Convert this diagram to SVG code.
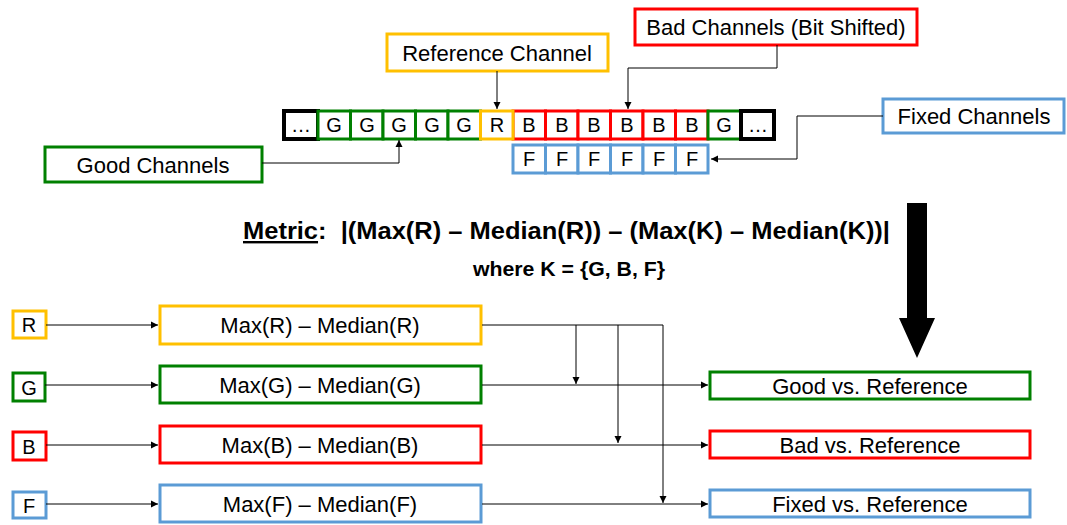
<svg xmlns="http://www.w3.org/2000/svg" width="1067" height="525" viewBox="0 0 1067 525">
<style>
text{font-family:"Liberation Sans",Arial,sans-serif;fill:#000;text-anchor:middle;}
.t18{font-size:20px;}
.t20{font-size:22px;}
.y{fill:#fff;stroke:#FFC000;stroke-width:3;}
.g{fill:#fff;stroke:#008000;stroke-width:3;}
.r{fill:#fff;stroke:#FF0000;stroke-width:3;}
.b{fill:#fff;stroke:#5B9BD5;stroke-width:3;}
.k{fill:#fff;stroke:#000;stroke-width:4;}
.ln{fill:none;stroke:#000;stroke-width:1;}
.mt{font-family:"Liberation Sans",Arial,sans-serif;font-weight:bold;white-space:pre;}
</style>
<defs>
<marker id="ah" markerWidth="8" markerHeight="8" refX="7" refY="4" orient="auto" markerUnits="userSpaceOnUse">
<path d="M0,0.5 L7,4 L0,7.5 Z" fill="#000"/>
</marker>
</defs>

<g id="channel-row">
<rect class="k" x="284" y="111" width="34" height="28"/><text class="t18" x="301" y="132">…</text>
<rect class="g" x="318" y="111" width="32.5" height="28"/><text class="t18" x="334" y="132">G</text>
<rect class="g" x="350.5" y="111" width="32.5" height="28"/><text class="t18" x="367" y="132">G</text>
<rect class="g" x="383" y="111" width="32.5" height="28"/><text class="t18" x="399" y="132">G</text>
<rect class="g" x="415.5" y="111" width="32.5" height="28"/><text class="t18" x="432" y="132">G</text>
<rect class="g" x="448" y="111" width="32.5" height="28"/><text class="t18" x="464" y="132">G</text>
<rect class="r" x="513" y="111" width="32.5" height="28"/><text class="t18" x="529" y="132">B</text>
<rect class="r" x="545.5" y="111" width="32.5" height="28"/><text class="t18" x="562" y="132">B</text>
<rect class="r" x="578" y="111" width="32.5" height="28"/><text class="t18" x="594" y="132">B</text>
<rect class="r" x="610.5" y="111" width="32.5" height="28"/><text class="t18" x="627" y="132">B</text>
<rect class="r" x="643" y="111" width="32.5" height="28"/><text class="t18" x="659" y="132">B</text>
<rect class="r" x="675.5" y="111" width="32.5" height="28"/><text class="t18" x="692" y="132">B</text>
<rect class="y" x="480.5" y="111" width="32.5" height="28"/><text class="t18" x="497" y="132">R</text>
<rect class="g" x="708" y="111" width="33" height="28"/><text class="t18" x="724" y="132">G</text>
<rect class="k" x="741" y="111" width="33" height="28"/><text class="t18" x="758" y="132">…</text>
</g>

<g id="fixed-row">
<rect class="b" x="513" y="145" width="32.5" height="28"/><text class="t18" x="529" y="166">F</text>
<rect class="b" x="545.5" y="145" width="32.5" height="28"/><text class="t18" x="562" y="166">F</text>
<rect class="b" x="578" y="145" width="32.5" height="28"/><text class="t18" x="594" y="166">F</text>
<rect class="b" x="610.5" y="145" width="32.5" height="28"/><text class="t18" x="627" y="166">F</text>
<rect class="b" x="643" y="145" width="32.5" height="28"/><text class="t18" x="659" y="166">F</text>
<rect class="b" x="675.5" y="145" width="32.5" height="28"/><text class="t18" x="692" y="166">F</text>
</g>

<g id="reference-channel"><rect class="y" x="387" y="34" width="221" height="37"/><text class="t20" x="497" y="61">Reference Channel</text></g>
<g id="bad-channels"><rect class="r" x="635" y="9" width="282" height="36"/><text class="t20" x="776" y="35">Bad Channels (Bit Shifted)</text></g>
<g id="good-channels"><rect class="g" x="45" y="147" width="217" height="35"/><text class="t20" x="153" y="173">Good Channels</text></g>
<g id="fixed-channels"><rect class="b" x="883" y="99" width="181" height="34"/><text class="t20" x="974" y="124">Fixed Channels</text></g>

<g id="metric">
<text class="mt" x="243" y="239" style="font-size:24px;text-anchor:start;" textLength="647" lengthAdjust="spacingAndGlyphs"><tspan text-decoration="underline">Metric</tspan>:  |(Max(R) – Median(R)) – (Max(K) – Median(K))|</text>
<text class="mt" x="569" y="276" style="font-size:20px;" textLength="192" lengthAdjust="spacingAndGlyphs">where K = {G, B, F}</text>
</g>

<g id="big-arrow"><path d="M907,203 H927 V318 H935 L917,358 L899,318 H907 Z" fill="#000"/></g>

<g id="in-R"><rect class="y" x="13" y="311" width="33" height="27"/><text class="t18" x="29" y="332">R</text></g>
<g id="in-G"><rect class="g" x="13" y="373" width="32" height="28"/><text class="t18" x="29" y="395">G</text></g>
<g id="in-B"><rect class="r" x="13" y="432" width="33" height="28"/><text class="t18" x="29" y="454">B</text></g>
<g id="in-F"><rect class="b" x="13" y="492" width="33" height="26"/><text class="t18" x="29" y="513">F</text></g>

<g id="max-R"><rect class="y" x="160" y="306" width="321" height="38"/><text class="t20" x="320" y="333">Max(R) – Median(R)</text></g>
<g id="max-G"><rect class="g" x="160" y="366" width="321" height="37"/><text class="t20" x="320" y="393">Max(G) – Median(G)</text></g>
<g id="max-B"><rect class="r" x="160" y="426" width="321" height="37"/><text class="t20" x="320" y="453">Max(B) – Median(B)</text></g>
<g id="max-F"><rect class="b" x="160" y="485" width="321" height="37"/><text class="t20" x="320" y="512">Max(F) – Median(F)</text></g>

<g id="good-vs"><rect class="g" x="710" y="372" width="320" height="27"/><text class="t20" x="870" y="394">Good vs. Reference</text></g>
<g id="bad-vs"><rect class="r" x="710" y="431" width="320" height="27"/><text class="t20" x="870" y="453">Bad vs. Reference</text></g>
<g id="fixed-vs"><rect class="b" x="710" y="490" width="320" height="27"/><text class="t20" x="870" y="512">Fixed vs. Reference</text></g>

<g id="connectors">
<path class="ln" d="M497,71 V109" marker-end="url(#ah)"/>
<path class="ln" d="M777,45 V68 H628 V109" marker-end="url(#ah)"/>
<path class="ln" d="M262,163 H399 V140" marker-end="url(#ah)"/>
<path class="ln" d="M883,116 H797 V159 H711" marker-end="url(#ah)"/>
<path class="ln" d="M46,325 H158" marker-end="url(#ah)"/>
<path class="ln" d="M45,385 H158" marker-end="url(#ah)"/>
<path class="ln" d="M46,445 H158" marker-end="url(#ah)"/>
<path class="ln" d="M46,504 H158" marker-end="url(#ah)"/>
<path class="ln" d="M482,325 H663"/>
<path class="ln" d="M576,325 V384" marker-end="url(#ah)"/>
<path class="ln" d="M618,325 V443" marker-end="url(#ah)"/>
<path class="ln" d="M663,325 V503" marker-end="url(#ah)"/>
<path class="ln" d="M482,385 H708" marker-end="url(#ah)"/>
<path class="ln" d="M482,445 H708" marker-end="url(#ah)"/>
<path class="ln" d="M482,504 H708" marker-end="url(#ah)"/>
</g>
</svg>
